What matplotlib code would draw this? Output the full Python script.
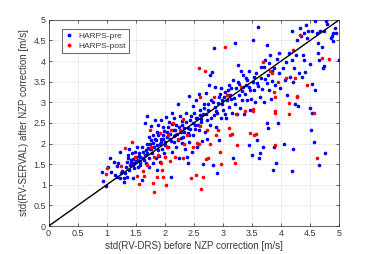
import matplotlib
matplotlib.use("Agg")
import matplotlib.pyplot as plt

# HARPS-pre (blue): std before / after NZP correction [m/s]
pre_x = [0.92, 0.94, 0.99, 1.03, 1.06, 1.08, 1.13, 1.14, 1.17,
         1.18, 1.20, 1.22, 1.23, 1.25, 1.27, 1.29, 1.30, 1.32, 1.33, 1.34, 1.35, 1.37, 1.38, 1.39, 1.40, 1.41, 1.43, 1.45, 1.45,
         1.46, 1.47, 1.49, 1.51, 1.52, 1.53, 1.54, 1.56, 1.57, 1.58, 1.60, 1.61, 1.63, 1.64, 1.66, 1.67, 1.69, 1.69, 1.70, 1.72, 1.73, 1.73, 1.75,
         1.76, 1.77, 1.78, 1.79, 1.80, 1.81, 1.83, 1.84, 1.85, 1.86, 1.87, 1.88, 1.89, 1.91, 1.92, 1.93, 1.94, 1.95, 1.96, 1.97, 1.99, 2.00, 2.01, 2.02,
         2.04, 2.06, 2.07, 2.09, 2.10, 2.12, 2.12, 2.14, 2.15, 2.16, 2.18, 2.19, 2.20, 2.22, 2.23, 2.24, 2.26, 2.27, 2.29, 2.30, 2.32,
         2.33, 2.35, 2.37, 2.38, 2.39, 2.40, 2.41, 2.42, 2.43, 2.44, 2.46, 2.48, 2.49, 2.50, 2.52, 2.54, 2.55, 2.56, 2.58, 2.59,
         2.61, 2.62, 2.64, 2.65, 2.66, 2.68, 2.69, 2.70, 2.72, 2.73, 2.75, 2.76, 2.77, 2.78, 2.80, 2.81, 2.82, 2.84, 2.85, 2.86, 2.87, 2.88, 2.89,
         2.90, 2.92, 2.94, 2.95, 2.96, 2.97, 2.99, 3.00, 3.02, 3.04, 3.05, 3.07, 3.08, 3.10, 3.11, 3.12, 3.14, 3.15, 3.17, 3.18,
         3.20, 3.21, 3.23, 3.24, 3.25, 3.27, 3.28, 3.30, 3.31, 3.32, 3.34, 3.35, 3.37, 3.38, 3.40, 3.41, 3.42, 3.44, 3.44, 3.46, 3.47,
         3.48, 3.50, 3.51, 3.52, 3.53, 3.55, 3.57, 3.58, 3.59, 3.61, 3.62, 3.63, 3.64, 3.65, 3.67, 3.68, 3.70, 3.71, 3.73, 3.76, 3.75, 3.75,
         3.77, 3.78, 3.79, 3.81, 3.82, 3.84, 3.86, 3.87, 3.88, 3.90, 3.92, 3.93, 3.94, 3.96, 3.97, 3.98,
         4.04, 4.05, 4.07, 4.09, 4.11, 4.13, 4.15, 4.18, 4.18, 4.19, 4.20, 4.21, 4.22, 4.24, 4.26, 4.27, 4.29, 4.30, 4.32,
         4.35, 4.36, 4.37, 4.39, 4.40, 4.41, 4.43, 4.44, 4.47, 4.50, 4.50, 4.53, 4.51, 4.54, 4.54, 4.56, 4.59, 4.59, 4.61,
         4.63, 4.64, 4.65, 4.66, 4.67, 4.70, 4.72, 4.73, 4.74, 4.75, 4.78, 4.79, 4.85, 4.87, 4.89, 4.90, 4.93, 4.95, 4.99,
         1.36, 1.42, 1.47, 1.50, 1.55, 1.58, 1.62, 1.65, 1.68, 1.71, 1.74, 1.77, 1.80, 1.83, 1.86, 1.88, 1.90, 1.93,
         1.96, 1.98, 2.01, 2.03, 2.05, 2.08, 2.11, 2.13, 2.16, 2.18, 2.21, 2.24, 2.27, 2.30, 2.33, 2.36, 2.39, 2.42,
         2.45, 2.48, 2.51, 2.54, 2.57, 2.60, 2.63, 2.67, 2.71, 2.74, 2.79, 2.83, 2.88, 2.93, 2.98, 3.03, 3.09, 3.13,
         3.19, 3.26, 3.33, 3.39, 3.45, 3.54, 3.60, 3.66, 3.72, 3.80, 3.85]
pre_y = [1.30, 1.09, 0.98, 1.44, 1.64, 1.32, 1.56, 1.24, 1.20,
         1.46, 1.52, 1.16, 1.80, 1.28, 1.34, 1.16, 1.07, 1.29, 1.44, 1.56, 1.20, 1.72, 1.88, 1.35, 1.48, 1.60, 1.76, 1.16, 1.48,
         1.62, 1.52, 1.80, 1.68, 1.92, 1.44, 1.60, 1.76, 1.48, 1.68, 1.92, 1.11, 1.80, 1.60, 2.49, 1.52, 2.00, 2.66, 1.76, 2.16, 1.64, 1.44, 1.88,
         2.42, 2.08, 1.76, 1.52, 2.20, 1.92, 2.57, 1.64, 2.08, 1.36, 2.29, 1.84, 2.45, 2.00, 1.56, 2.57, 2.12, 1.88, 2.41, 2.21, 1.76, 2.04, 1.68, 2.65,
         2.29, 1.92, 2.53, 2.12, 1.20, 1.80, 2.73, 2.33, 2.04, 2.61, 2.21, 1.92, 2.46, 2.97, 2.08, 1.64, 2.66, 2.29, 2.02, 2.55, 2.16,
         2.37, 1.86, 2.73, 1.68, 2.25, 1.52, 3.15, 2.04, 2.58, 2.36, 1.80, 2.91, 2.21, 2.73, 2.45, 3.05, 1.92, 2.61, 3.21, 2.34,
         2.81, 2.53, 2.07, 2.71, 1.50, 2.97, 2.28, 3.23, 2.58, 2.12, 2.81, 3.42, 3.66, 2.45, 3.05, 3.74, 1.49, 2.70, 4.31, 2.89, 3.36, 2.41, 1.28,
         2.73, 2.99, 2.08, 3.21, 3.34, 2.62, 2.95, 2.81, 3.13, 2.71, 2.62, 3.05, 3.30, 2.89, 3.42, 3.17, 3.09, 2.73, 1.64, 3.54,
         4.44, 2.97, 3.34, 2.71, 3.90, 3.17, 3.45, 2.87, 3.76, 3.06, 3.38, 3.66, 2.71, 3.21, 3.42, 3.05, 3.54, 3.76, 1.96, 3.30, 2.81,
         3.09, 1.72, 3.49, 4.52, 3.31, 3.01, 3.72, 2.08, 3.47, 4.83, 1.64, 3.13, 1.76, 3.60, 3.33, 1.91, 3.86, 3.01, 4.02, 4.40, 2.49, 3.47,
         2.37, 3.65, 3.29, 4.14, 3.09, 3.52, 1.36, 3.82, 1.91, 3.42, 1.53, 4.04, 2.49, 4.19, 3.70, 3.34,
         3.82, 1.99, 3.54, 3.98, 3.17, 4.19, 3.62, 4.73, 4.02, 1.34, 1.88, 3.50, 3.83, 2.97, 4.14, 4.51, 2.91, 3.70, 4.79,
         4.60, 3.62, 4.14, 4.02, 4.67, 3.74, 4.87, 4.56, 4.72, 3.94, 2.85, 2.73, 2.33, 3.45, 4.74, 2.04, 4.98, 3.30, 4.67,
         4.20, 4.43, 4.02, 1.48, 4.74, 4.35, 3.83, 3.88, 4.73, 1.76, 4.98, 4.90, 4.57, 4.60, 4.48, 4.68, 4.79, 4.67, 4.02,
         1.64, 1.52, 1.40, 1.58, 1.70, 1.55, 1.66, 1.72, 1.84, 1.90, 1.98, 1.86, 2.02, 2.12, 1.96, 2.20, 1.70, 2.04,
         2.12, 2.30, 1.96, 2.16, 2.40, 2.22, 2.06, 2.48, 2.18, 2.34, 2.22, 2.40, 2.14, 2.46, 2.28, 2.52, 2.38, 2.20,
         2.66, 2.50, 2.36, 2.62, 2.44, 2.70, 2.60, 2.86, 2.72, 2.95, 2.62, 3.00, 2.78, 3.12, 3.05, 3.25, 3.18, 3.35,
         3.10, 3.50, 3.28, 3.60, 3.38, 3.62, 3.40, 3.85, 3.56, 3.95, 3.75]

# HARPS-post (red)
post_x = [0.99, 1.00, 1.25, 1.31, 1.43, 1.48, 1.52, 1.56, 1.62, 1.64, 1.69, 1.75, 1.77, 1.80, 1.82, 1.82,
          1.86, 1.89, 1.92, 1.93, 1.95, 1.97, 2.00, 2.02, 2.03, 2.06, 2.09, 2.10, 2.14, 2.18, 2.23, 2.26,
          2.31, 2.31, 2.33, 2.38, 2.45, 2.49, 2.54, 2.55, 2.58, 2.58, 2.60, 2.61, 2.63, 2.66, 2.69, 2.70,
          2.72, 2.74, 2.77, 2.84, 2.88, 2.92, 2.95, 2.96, 3.03, 3.07, 3.10, 3.12, 3.15, 3.21, 3.23, 3.24,
          3.31, 3.38, 3.46, 3.51, 3.52, 3.53, 3.56, 3.69, 3.81, 3.84, 3.88, 3.90, 3.89, 3.89, 3.90, 3.94,
          4.09, 4.13, 4.14, 4.21, 4.24, 4.27, 4.28, 4.33, 4.44, 4.57, 4.62, 4.71, 4.83]
post_y = [1.26, 1.40, 1.46, 1.89, 2.04, 1.68, 1.22, 1.01, 1.34, 1.22, 1.49, 2.33, 1.92, 1.05, 0.83, 1.68,
          1.20, 1.72, 2.25, 1.52, 1.36, 1.20, 1.68, 0.99, 1.92, 2.21, 1.58, 2.33, 2.49, 1.68, 2.12, 2.33,
          2.59, 1.64, 2.00, 2.21, 1.16, 1.92, 1.24, 2.02, 3.84, 2.00, 2.42, 3.12, 0.91, 1.20, 3.76, 1.62,
          2.34, 1.64, 1.99, 3.13, 2.21, 2.34, 1.80, 1.50, 4.35, 3.17, 2.37, 2.21, 2.23, 1.54, 2.71, 1.96,
          3.36, 2.78, 2.26, 2.78, 2.84, 2.21, 2.22, 3.97, 3.76, 3.71, 3.26, 3.13, 2.79, 2.73, 1.96, 3.49,
          3.59, 2.99, 2.71, 4.26, 3.59, 3.16, 3.13, 4.64, 3.41, 2.73, 1.66, 4.07, 4.05]

ticks = [0, 0.5, 1, 1.5, 2, 2.5, 3, 3.5, 4, 4.5, 5]
tick_labels = ["0", "0.5", "1", "1.5", "2", "2.5", "3", "3.5", "4", "4.5", "5"]

plt.rcParams['font.family'] = ['Liberation Sans', 'DejaVu Sans']
dark = "#262626"
text_gray = "#3a3a3a"

fig = plt.figure(figsize=(3.74, 2.54), dpi=100)
ax = fig.add_axes([0.13, 0.11, 0.777, 0.812])

ax.plot(pre_x, pre_y, '.', color='#0000ff', markersize=3.2, label='HARPS-pre', zorder=3)
ax.plot(post_x, post_y, '.', color='#ff0000', markersize=3.2, label='HARPS-post', zorder=3)
ax.plot([0, 5], [0, 5], color='black', linewidth=1.0, zorder=4)

ax.set_xlim(0, 5)
ax.set_ylim(0, 5)
ax.set_xticks(ticks)
ax.set_yticks(ticks)
ax.set_xticklabels(tick_labels)
ax.set_yticklabels(tick_labels)
ax.grid(True, color='#e6e6e6', linewidth=0.5, zorder=0)
ax.set_axisbelow(True)
ax.tick_params(direction='in', length=2, width=0.5, labelsize=6.5, colors=dark,
               labelcolor=text_gray, top=True, right=True, pad=2)
for s in ax.spines.values():
    s.set_linewidth(0.5)
    s.set_color(dark)

ax.set_xlabel("std(RV-DRS) before NZP correction [m/s]", fontsize=7, color=text_gray, labelpad=2)
ax.set_ylabel("std(RV-SERVAL) after NZP correction [m/s]", fontsize=7, color=text_gray, labelpad=3)

leg = ax.legend(loc='upper left', bbox_to_anchor=(0.03, 0.975), fontsize=6, markerscale=1.1,
                handlelength=1.1, handletextpad=0.6, borderpad=0.35, labelspacing=0.25,
                fancybox=False, framealpha=1, edgecolor=dark)
leg.get_frame().set_linewidth(0.5)
for t in leg.get_texts():
    t.set_color(text_gray)

fig.savefig("out.png", dpi=100)
